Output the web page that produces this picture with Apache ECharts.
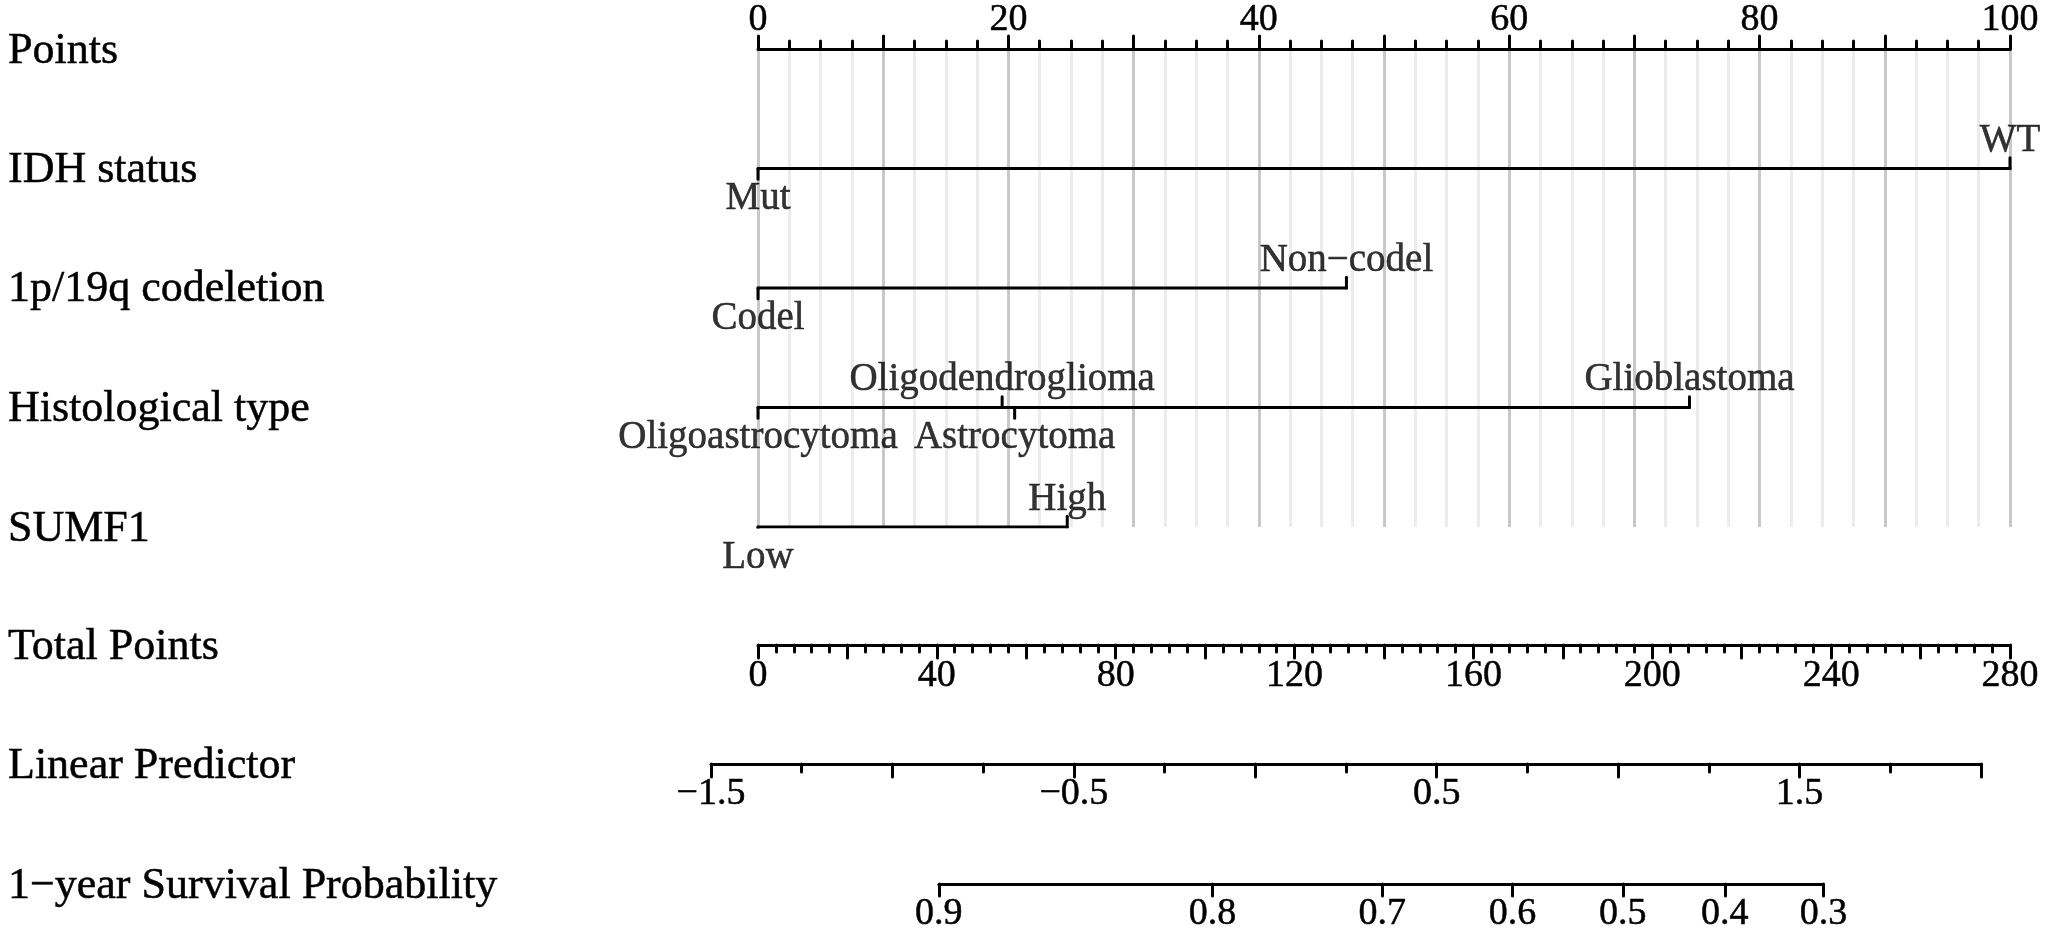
<!DOCTYPE html>
<html>
<head>
<meta charset="utf-8">
<script src="https://cdn.jsdelivr.net/npm/echarts@6/dist/echarts.min.js"></script>
<style>
html,body{margin:0;padding:0;background:#fff;}
#chart{width:2050px;height:935px;}
</style>
</head>
<body>
<div id="chart"></div>
<script>
// ---------------- data ----------------
const rowNames = ['Points', 'IDH status', '1p/19q codeletion', 'Histological type', 'SUMF1',
  'Total Points', 'Linear Predictor', '1\u2212year Survival Probability'];

const pointsMin = 0, pointsMax = 100;            // Points scale
const totalMin = 0, totalMax = 280;              // Total Points scale
const lpMin = -1.5, lpMax = 2.0;                 // Linear predictor scale
const lpLabelValues = [-1.5, -0.5, 0.5, 1.5];

const idhLevels = ['Mut', 'WT'];
const idhPoints = [0, 100];
const codelLevels = ['Codel', 'Non\u2212codel'];
const codelPoints = [0, 47];
const histLevels = ['Oligoastrocytoma', 'Oligodendroglioma', 'Astrocytoma', 'Glioblastoma'];
const histPoints = [0, 19.5, 20.5, 74.4];
const sumf1Levels = ['Low', 'High'];
const sumf1Points = [0, 24.7];

const survLabels = [0.9, 0.8, 0.7, 0.6, 0.5, 0.4, 0.3];
const survLP = [-0.872, -0.118, 0.350, 0.709, 1.013, 1.294, 1.566]; // linear predictor at each label

// ---------------- layout ----------------
const FONT = "'Liberation Serif','Times New Roman',Times,serif";
const rowY = [49, 168, 287, 407, 527, 645, 764, 884];
const ptsLeft = 758, ptsRight = 2010;
const lpLeft = 711, lpRight = 1981;
const lpPx = (lpRight - lpLeft) / (lpMax - lpMin);
const survLeft = lpLeft + (survLP[0] - lpMin) * lpPx;
const survWidth = (survLP[survLP.length - 1] - survLP[0]) * lpPx;

const BLACK = '#000';
const LW = 3;
const TICK_FS = 38, CAT_FS = 39, ROW_FS = 44;
const TB = { textBorderColor: BLACK, textBorderWidth: 0.5 };

function minusFmt(v) { return String(v).replace('-', '\u2212'); }

function labelStyle(extra) {
  return Object.assign({ color: BLACK, fontSize: TICK_FS, fontFamily: FONT }, TB, extra);
}

function baseAxis(extra) {
  return Object.assign({
    type: 'value',
    axisLine: { show: true, onZero: false, lineStyle: { color: BLACK, width: LW, cap: 'round' } },
    axisTick: { show: true, inside: false, length: 13, lineStyle: { color: BLACK, width: LW, cap: 'round' } },
    minorTick: { show: false },
    splitLine: { show: false },
    axisLabel: labelStyle({}),
  }, extra);
}

const xAxes = [
  baseAxis({
    gridIndex: 0, position: 'top', min: pointsMin, max: pointsMax, interval: 10,
    minorTick: { show: true, splitNumber: 4, length: 8, lineStyle: { color: BLACK, width: LW, cap: 'round' } },
    splitLine: { show: true, lineStyle: { color: '#c8c8c8', width: 3 } },
    minorSplitLine: { show: true, lineStyle: { color: '#ececec', width: 3 } },
    axisLabel: labelStyle({ margin: 10,
      formatter: v => (Math.round(v) % 20 === 0 ? String(v) : '') })
  }),
  baseAxis({
    gridIndex: 1, position: 'bottom', min: totalMin, max: totalMax, interval: 20,
    minorTick: { show: true, splitNumber: 5, length: 7, lineStyle: { color: BLACK, width: LW, cap: 'round' } },
    axisLabel: labelStyle({ margin: 12,
      formatter: v => (Math.round(v) % 40 === 0 ? String(v) : '') })
  }),
  baseAxis({
    gridIndex: 2, position: 'bottom', min: lpMin, max: lpMax, interval: 0.5,
    minorTick: { show: true, splitNumber: 2, length: 8, lineStyle: { color: BLACK, width: LW, cap: 'round' } },
    axisLabel: labelStyle({ margin: 11,
      formatter: v => (lpLabelValues.some(l => Math.abs(l - v) < 1e-9) ? minusFmt(v) : '') })
  }),
  baseAxis({
    gridIndex: 3, position: 'bottom', min: survLP[0], max: survLP[survLP.length - 1],
    axisTick: { show: true, inside: false, length: 12, customValues: survLP, lineStyle: { color: BLACK, width: LW, cap: 'round' } },
    axisLabel: labelStyle({ margin: 11, customValues: survLP,
      formatter: v => {
        let best = 0;
        survLP.forEach((p, i) => { if (Math.abs(p - v) < Math.abs(survLP[best] - v)) best = i; });
        return survLabels[best].toFixed(1);
      } })
  })
];

const yAxes = [
  { type: 'value', gridIndex: 0, min: 0, max: 4, inverse: true, show: false },
  { type: 'value', gridIndex: 1, min: 0, max: 1, show: false },
  { type: 'value', gridIndex: 2, min: 0, max: 1, show: false },
  { type: 'value', gridIndex: 3, min: 0, max: 1, show: false }
];

// ---------------- variable rows ----------------
const variables = [
  [idhLevels, idhPoints],
  [codelLevels, codelPoints],
  [histLevels, histPoints],
  [sumf1Levels, sumf1Points]
];

const series = [];
const TICK = 0.09;
variables.forEach(([levels, pts], k) => {
  const row = k + 1;
  const lo = Math.min(...pts), hi = Math.max(...pts);
  const lineStyle = { color: BLACK, width: LW, cap: 'round', join: 'round' };
  series.push({
    type: 'line', xAxisIndex: 0, yAxisIndex: 0, symbol: 'none', silent: true,
    lineStyle, data: [[lo, row], [hi, row]]
  });
  // order by points to alternate label sides
  const order = pts.map((p, i) => i).sort((a, b) => pts[a] - pts[b]);
  const labelData = [];
  order.forEach((i, rank) => {
    const below = rank % 2 === 0;
    series.push({
      type: 'line', xAxisIndex: 0, yAxisIndex: 0, symbol: 'none', silent: true,
      lineStyle, data: [[pts[i], row], [pts[i], row + (below ? TICK : -TICK)]]
    });
    labelData.push({
      value: [pts[i], row],
      name: levels[i],
      label: { position: below ? 'bottom' : 'top', distance: below ? 11 : 8 }
    });
  });
  series.push({
    type: 'scatter', xAxisIndex: 0, yAxisIndex: 0, symbolSize: 0, silent: true,
    data: labelData,
    label: Object.assign({ show: true, formatter: p => p.name, color: BLACK, fontSize: CAT_FS, fontFamily: FONT }, TB)
  });
});

// empty series so the other axes are laid out
[1, 2, 3].forEach(g => series.push({ type: 'line', xAxisIndex: g, yAxisIndex: g, data: [] }));

const option = {
  animation: false,
  backgroundColor: '#fff',
  grid: [
    { left: ptsLeft, width: ptsRight - ptsLeft, top: rowY[0], height: rowY[4] - rowY[0] },
    { left: ptsLeft, width: ptsRight - ptsLeft, top: rowY[5] - 1, height: 1 },
    { left: lpLeft, width: lpRight - lpLeft, top: rowY[6] - 1, height: 1 },
    { left: survLeft, width: survWidth, top: rowY[7] - 1, height: 1 }
  ],
  xAxis: xAxes,
  yAxis: yAxes,
  series: series,
  graphic: rowNames.map((t, i) => ({
    type: 'text', x: 8, y: rowY[i] + 2, silent: true,
    style: { text: t, fill: BLACK, fontSize: ROW_FS, fontFamily: FONT, align: 'left', verticalAlign: 'middle',
      stroke: BLACK, lineWidth: 0.5 }
  }))
};

const chart = echarts.init(document.getElementById('chart'), null, { renderer: 'canvas' });
chart.setOption(option);
</script>
</body>
</html>
